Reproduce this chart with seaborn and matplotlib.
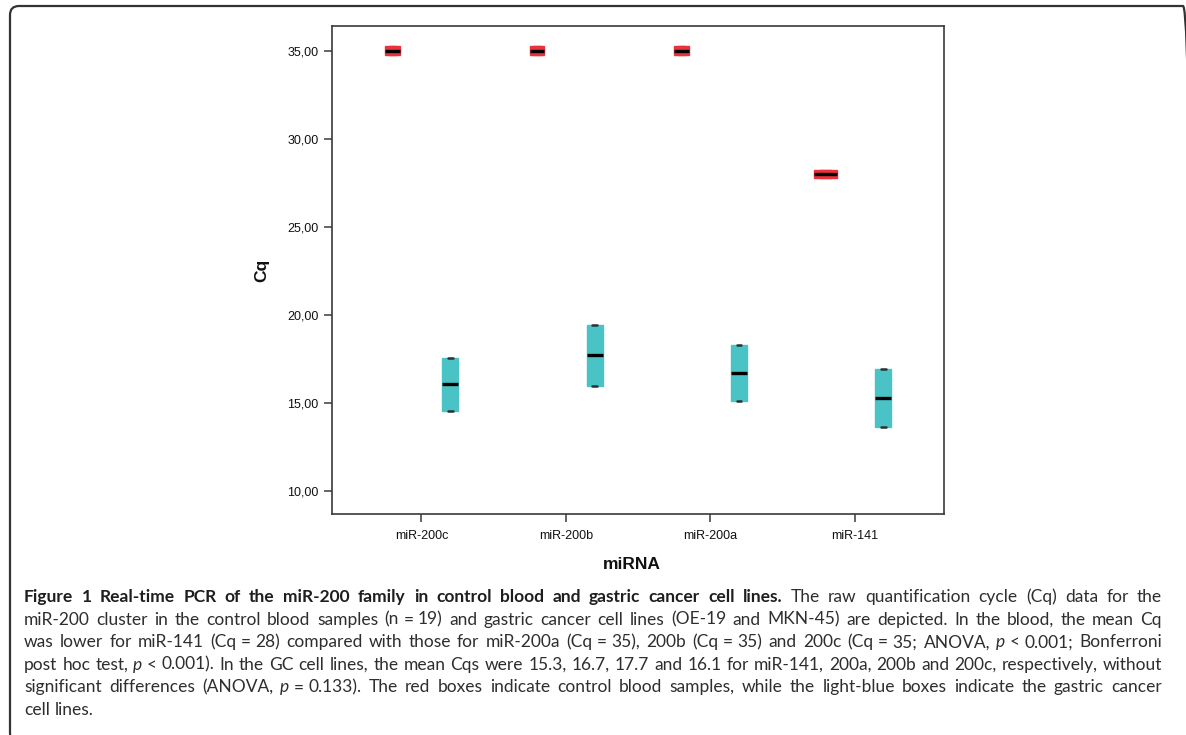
import numpy as np
import pandas as pd
import matplotlib
matplotlib.use("Agg")
import matplotlib.pyplot as plt
import seaborn as sns
from matplotlib.patches import FancyBboxPatch
from matplotlib.ticker import FuncFormatter
from matplotlib.transforms import IdentityTransform

# ---------------- data ----------------
categories = ["miR-200c", "miR-200b", "miR-200a", "miR-141"]
groups = ["Control blood", "GC cell lines"]
# control blood (n = 19): lower hinge, median, upper hinge
blood_low = [34.75, 34.75, 34.75, 27.75]
blood_med = [35.00, 35.00, 35.00, 28.00]
blood_high = [35.25, 35.25, 35.25, 28.25]
# gastric cancer cell lines (two lines, each in duplicate)
cell_line_a = [14.55, 15.97, 15.10, 13.65]
cell_line_b = [17.54, 19.43, 18.30, 16.95]
y_ticks = [10, 15, 20, 25, 30, 35]

red = "#E9323B"
cyan = "#4AC3C6"
palette = {groups[0]: red, groups[1]: cyan}

rows = []
for i, cat in enumerate(categories):
    vals = [blood_low[i]] * 6 + [blood_med[i]] * 7 + [blood_high[i]] * 6
    rows += [(cat, groups[0], v) for v in vals]
    vals = [cell_line_a[i]] * 2 + [cell_line_b[i]] * 2
    rows += [(cat, groups[1], v) for v in vals]
df = pd.DataFrame(rows, columns=["miRNA", "group", "Cq"])

# ---------------- figure ----------------
sns.set_theme(style="ticks")
plt.rcParams["font.family"] = ["Liberation Sans", "DejaVu Sans"]

W, H = 1186, 735
fig = plt.figure(figsize=(W / 100, H / 100), dpi=100)
ax = fig.add_axes([332 / W, 1 - 514 / H, 612 / W, 488 / H])

CAP_MARK = "#303031"
common = dict(x="miRNA", y="Cq", hue="group", order=categories, hue_order=groups,
              palette=palette, saturation=1, width=0.8, dodge=True, legend=False,
              linewidth=1.0, linecolor="#333333", whis=1.5, fliersize=0,
              medianprops=dict(color="black", linewidth=2.4), ax=ax)

cell_df = df[df.group == groups[1]]
blood_df = df[df.group == groups[0]]
sns.boxplot(data=cell_df, gap=0.72,
            capprops=dict(color=CAP_MARK, linewidth=1.8),
            whiskerprops=dict(color=CAP_MARK, linewidth=1.0), **common)
red_lines = dict(capprops=dict(color=red, linewidth=1.0),
                 whiskerprops=dict(color=red, linewidth=1.0))
sns.boxplot(data=blood_df[blood_df.miRNA != "miR-141"], gap=0.75, **red_lines, **common)
sns.boxplot(data=blood_df[blood_df.miRNA == "miR-141"], gap=0.60, **red_lines, **common)

for p in ax.patches:
    p.set_edgecolor(p.get_facecolor())

# shrink the whisker caps of the cell-line boxes to small marks
for ln in ax.lines:
    xd = np.asarray(ln.get_xdata(), dtype=float)
    yd = np.asarray(ln.get_ydata(), dtype=float)
    if ln.get_color() == CAP_MARK and len(xd) == 2 and yd[0] == yd[1] and xd[0] != xd[1]:
        c = xd.mean()
        ln.set_xdata([c - 0.016, c + 0.016])

ax.set_xlim(-0.62, 3.62)
ax.set_ylim(8.69, 36.40)
ax.set_yticks(y_ticks)
ax.yaxis.set_major_formatter(FuncFormatter(lambda v, pos: f"{v:.2f}".replace(".", ",")))

for s in ax.spines.values():
    s.set_visible(True)
    s.set_color("#3a3a3a")
    s.set_linewidth(1.2)
ax.tick_params(axis="both", length=5.5, width=1.1, color="#3a3a3a",
               labelsize=9, labelcolor="#111111")
ax.tick_params(axis="y", pad=4)
ax.tick_params(axis="x", pad=6)

ax.set_xlabel("miRNA", fontsize=12.5, fontweight="bold", color="#111111")
ax.set_ylabel("Cq", fontsize=12.5, fontweight="bold", color="#111111")
ax.xaxis.label.set_va("center")
ax.yaxis.label.set_va("center")
ax.xaxis.set_label_coords(0.49, -0.1045)
ax.yaxis.set_label_coords(-0.1144, 0.5)

# ---------------- outer rounded frame ----------------
frame = FancyBboxPatch((10, H - 742), 1182, 736,
                       boxstyle="round,pad=0,rounding_size=9",
                       transform=IdentityTransform(), fill=False,
                       lw=1.6, ec="#333333")
fig.add_artist(frame)

# ---------------- caption (justified) ----------------
NB = "\u00a0"
caption_lines = [
    "§Figure 1 Real-time PCR of the miR-200 family in control blood and gastric cancer cell lines.§ "
    "The raw quantification cycle (Cq) data for the",
    f"miR-200 cluster in the control blood samples (n{NB}={NB}19) and gastric cancer cell lines "
    "(OE-19 and MKN-45) are depicted. In the blood, the mean Cq",
    f"was lower for miR-141 (Cq{NB}={NB}28) compared with those for miR-200a (Cq{NB}={NB}35), "
    f"200b (Cq{NB}={NB}35) and 200c (Cq{NB}={NB}35; ANOVA, ¦p¦{NB}<{NB}0.001; Bonferroni",
    f"post hoc test, ¦p¦{NB}<{NB}0.001). In the GC cell lines, the mean Cqs were 15.3, 16.7, 17.7 "
    "and 16.1 for miR-141, 200a, 200b and 200c, respectively, without",
    f"significant differences (ANOVA, ¦p¦{NB}={NB}0.133). The red boxes indicate control blood "
    "samples, while the light-blue boxes indicate the gastric cancer",
    "cell lines.",
]
justify = [True, True, True, True, True, False]
baselines = [602, 624.6, 647.2, 669.8, 692.4, 715.0]
x_left, x_right = 24, 1162
cap_family = ["Lato", "DejaVu Sans"]
cap_color = "#2e2e2e"


def parse(line):
    words, word, sub = [], [], []
    state = {"style": "r", "buf": ""}

    def flush_run():
        if state["buf"]:
            sub.append((state["style"], state["buf"]))
            state["buf"] = ""

    for ch in line:
        if ch in "§¦":
            flush_run()
            tgt = "b" if ch == "§" else "i"
            state["style"] = "r" if state["style"] == tgt else tgt
        elif ch == " ":
            flush_run()
            if sub:
                word.append(list(sub)); sub.clear()
            if word:
                words.append(list(word)); word.clear()
        elif ch == NB:
            flush_run()
            if sub:
                word.append(list(sub)); sub.clear()
        else:
            state["buf"] += ch
    flush_run()
    if sub:
        word.append(list(sub))
    if word:
        words.append(list(word))
    return words


def make_text(s, style, fs):
    return fig.text(0, 0, s, fontsize=fs, family=cap_family,
                    color="#1e1e1e" if style == "b" else cap_color,
                    fontweight="bold" if style == "b" else "normal",
                    fontstyle="italic" if style == "i" else "normal",
                    transform=IdentityTransform(), va="baseline", ha="left")


parsed = [parse(l) for l in caption_lines]
fs0 = 11.0
texts = []
for words in parsed:
    lt = []
    for word in words:
        wt = []
        for sub in word:
            wt.append([make_text(s, st, fs0) for st, s in sub])
        lt.append(wt)
    texts.append(lt)
probe1 = make_text("a a", "r", fs0)
probe2 = make_text("aa", "r", fs0)

fig.canvas.draw()
renderer = fig.canvas.get_renderer()


def width(t):
    return t.get_window_extent(renderer).width


def measure():
    sp = width(probe1) - width(probe2)
    data = []
    for lt in texts:
        ld = []
        for wt in lt:
            ld.append([[width(t) for t in sub] for sub in wt])
        data.append(ld)
    return sp, data


sp, data = measure()
target = x_right - x_left
ratios = []
for li, ld in enumerate(data):
    if not justify[li]:
        continue
    nat = sum(sum(sum(s) for s in w) + sp * (len(w) - 1) for w in ld) + 0.72 * sp * (len(ld) - 1)
    ratios.append(target / nat)
fs = min(12.5, fs0 * min(ratios) * 0.998)
for lt in texts:
    for wt in lt:
        for sub in wt:
            for t in sub:
                t.set_fontsize(fs)
probe1.set_fontsize(fs)
probe2.set_fontsize(fs)
fig.canvas.draw()
sp, data = measure()
probe1.remove()
probe2.remove()

for li, (lt, ld) in enumerate(zip(texts, data)):
    word_w = [sum(sum(s) for s in w) + sp * (len(w) - 1) for w in ld]
    if justify[li] and len(ld) > 1:
        gap = (target - sum(word_w)) / (len(ld) - 1)
    else:
        gap = sp
    y = H - baselines[li]
    x = x_left
    for wt, wd, ww in zip(lt, ld, word_w):
        xx = x
        for sub_t, sub_w in zip(wt, wd):
            for t, tw in zip(sub_t, sub_w):
                t.set_position((xx, y))
                xx += tw
            xx += sp
        x += ww + gap

fig.savefig("out.png", dpi=100)
